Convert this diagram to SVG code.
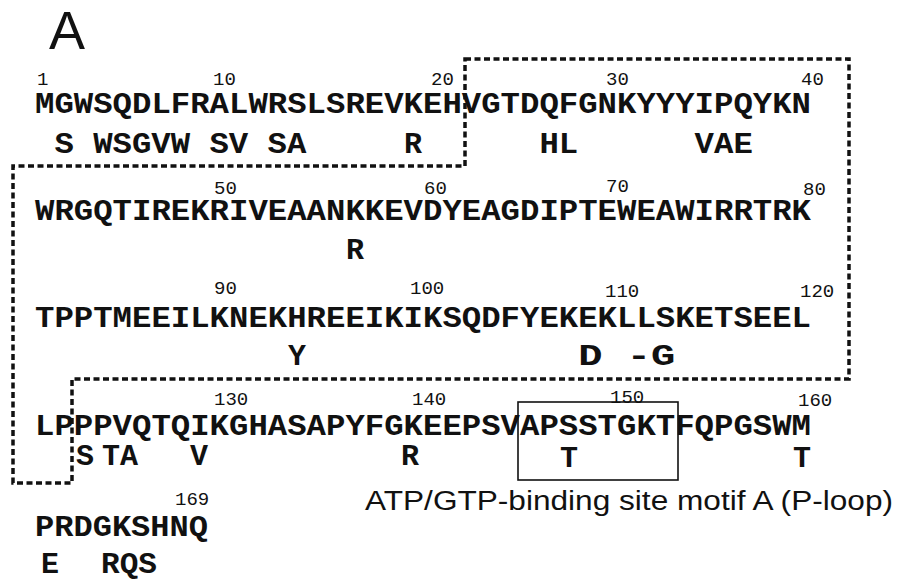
<svg xmlns="http://www.w3.org/2000/svg" width="899" height="582" viewBox="0 0 899 582">
<style>
.seq{font-family:"Liberation Mono","Courier New",monospace;font-weight:bold;font-size:30px;fill:#111}
.num{font-family:"Liberation Mono","Courier New",monospace;font-size:19px;fill:#111}
.lab{font-family:"Liberation Sans",Arial,sans-serif;fill:#111}
.dash{fill:none;stroke:#111;stroke-width:3.5;stroke-dasharray:6 3.5}
</style>
<rect width="899" height="582" fill="#fff"/>
<text class="lab" x="49" y="49" font-size="54">A</text>
<g id="domain-outline">
<path class="dash" d="M465,59 H849 V379 H72 V483 H13 V166 H465 Z"/>
</g>
<g id="row1">
<text class="num" x="37" y="85">1</text>
<text class="num" x="213" y="85">10</text>
<text class="num" x="431" y="85">20</text>
<text class="num" x="606" y="85">30</text>
<text class="num" x="801" y="85">40</text>
<text class="seq" x="35" y="113" textLength="776" lengthAdjust="spacingAndGlyphs">MGWSQDLFRALWRSLSREVKEHVGTDQFGNKYYYIPQYKN</text>
<text class="seq" x="54.4" y="153" textLength="252" lengthAdjust="spacingAndGlyphs">S WSGVW SV SA</text>
<text class="seq" x="404" y="153">R</text>
<text class="seq" x="539.4" y="153" textLength="38.8" lengthAdjust="spacingAndGlyphs">HL</text>
<text class="seq" x="694.6" y="153" textLength="58.2" lengthAdjust="spacingAndGlyphs">VAE</text>
</g>
<g id="row2">
<text class="num" x="214" y="194">50</text>
<text class="num" x="424" y="194">60</text>
<text class="num" x="606" y="192">70</text>
<text class="num" x="803" y="195">80</text>
<text class="seq" x="35" y="220" textLength="776" lengthAdjust="spacingAndGlyphs">WRGQTIREKRIVEAANKKEVDYEAGDIPTEWEAWIRRTRK</text>
<text class="seq" x="346" y="259">R</text>
</g>
<g id="row3">
<text class="num" x="214" y="294">90</text>
<text class="num" x="410" y="294">100</text>
<text class="num" x="605" y="297">110</text>
<text class="num" x="800" y="297">120</text>
<text class="seq" x="35" y="327" textLength="776" lengthAdjust="spacingAndGlyphs">TPPTMEEILKNEKHREEIKIKSQDFYEKEKLLSKETSEEL</text>
<text class="seq" x="288" y="365">Y</text>
<text class="seq" x="578.2" y="365" textLength="97" lengthAdjust="spacingAndGlyphs">D  -G</text>
</g>
<g id="row4">
<text class="num" x="214" y="405">130</text>
<text class="num" x="412" y="405">140</text>
<text class="num" x="610" y="403">150</text>
<text class="num" x="798" y="406">160</text>
<text class="seq" x="35" y="435" textLength="776" lengthAdjust="spacingAndGlyphs">LPPPVQTQIKGHASAPYFGKEEPSVAPSSTGKTFQPGSWM</text>
<text class="seq" x="76" y="465">S</text>
<text class="seq" x="102" y="465" textLength="36" lengthAdjust="spacingAndGlyphs">TA</text>
<text class="seq" x="190" y="465">V</text>
<text class="seq" x="401" y="465">R</text>
<text class="seq" x="560" y="467">T</text>
<text class="seq" x="793" y="467">T</text>
</g>
<g id="p-loop">
<rect x="518" y="402" width="160" height="78" fill="none" stroke="#111" stroke-width="1.6"/>
<text class="lab" x="365" y="510" font-size="27" textLength="528" lengthAdjust="spacingAndGlyphs">ATP/GTP-binding site motif A (P-loop)</text>
</g>
<g id="row5">
<text class="num" x="175" y="505">169</text>
<text class="seq" x="35" y="536" textLength="173" lengthAdjust="spacingAndGlyphs">PRDGKSHNQ</text>
<text class="seq" x="41" y="573">E</text>
<text class="seq" x="101" y="573" textLength="56" lengthAdjust="spacingAndGlyphs">RQS</text>
</g>
</svg>
